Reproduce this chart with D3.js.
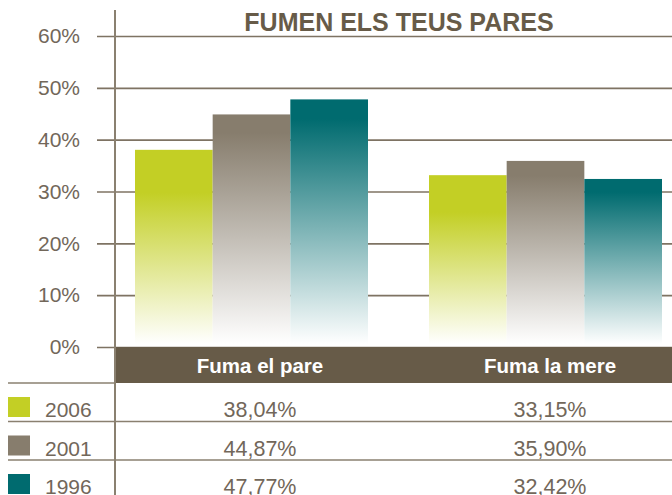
<!DOCTYPE html>
<html>
<head>
<meta charset="utf-8">
<script src="https://cdn.jsdelivr.net/npm/d3@7"></script>
<style>
  body { margin: 0; background: #fff; }
  svg { display: block; font-family: "Liberation Sans", Arial, sans-serif; }
</style>
</head>
<body>
<svg id="chart" width="672" height="495"></svg>
<script>
// Data
const categories = ["Fuma el pare", "Fuma la mere"];
const years = ["2006", "2001", "1996"];
const fumaPare = [38.04, 44.87, 47.77];
const fumaMere = [33.15, 35.90, 32.42];
const yTicks = [0, 10, 20, 30, 40, 50, 60];
const title = "FUMEN ELS TEUS PARES";

const colors = {"2006": "#c3cf25", "2001": "#877d6d", "1996": "#006b6f"};
const brown = "#675b48";
const lineColor = "#8a8070";
const textColor = "#72675a";

const svg = d3.select("#chart");

const y = d3.scaleLinear().domain([0, 60]).range([347, 36]);

// groups of bars
const x0 = d3.scaleBand().domain(categories).range([135, 662]).paddingInner(0.2075);
const x1 = d3.scaleBand().domain(years).range([0, x0.bandwidth()]);
// table columns
const xc = d3.scaleBand().domain(categories).range([115, 695]);

const fmt = v => d3.format(".2f")(v).replace(".", ",") + "%";

// gradients
const defs = svg.append("defs");
years.forEach(yr => {
    const g = defs.append("linearGradient")
        .attr("id", "grad" + yr)
        .attr("x1", 0).attr("y1", 0).attr("x2", 0).attr("y2", 1);
    const c = colors[yr];
    const solid = yr === "2006" ? 0.22 : 0.08;
    g.append("stop").attr("offset", 0).attr("stop-color", c);
    g.append("stop").attr("offset", solid).attr("stop-color", c);
    g.append("stop").attr("offset", 1).attr("stop-color", "#ffffff");
});

// gridlines
svg.append("g")
    .attr("transform", "translate(672,0)")
    .call(d3.axisLeft(y).tickValues(yTicks).tickSize(575).tickFormat(""))
    .call(g => g.select(".domain").remove())
    .call(g => g.selectAll("line").attr("stroke", brown).attr("stroke-width", 1.6).attr("stroke-opacity", 0.85));

// y labels
svg.append("g")
    .attr("transform", "translate(115,0)")
    .call(d3.axisLeft(y).tickValues(yTicks).tickSize(0).tickPadding(35).tickFormat(d => d + "%"))
    .call(g => g.select(".domain").remove())
    .call(g => g.selectAll("text")
        .attr("fill", textColor)
        .attr("font-size", 21)
        .attr("font-family", "Liberation Sans, Arial, sans-serif"));

// bars
const rows = years.map((yr, i) => ({year: yr, values: [fumaPare[i], fumaMere[i]]}));

categories.forEach((cat, ci) => {
    svg.append("g")
        .attr("transform", `translate(${x0(cat)},0)`)
        .selectAll("rect")
        .data(rows)
        .enter().append("rect")
        .attr("x", d => x1(d.year))
        .attr("y", d => y(d.values[ci]))
        .attr("width", x1.bandwidth())
        .attr("height", d => y(0) - 3 - y(d.values[ci]))
        .attr("fill", d => `url(#grad${d.year})`);
});

// title
svg.append("text")
    .attr("x", 399)
    .attr("y", 31)
    .attr("text-anchor", "middle")
    .attr("font-size", 25)
    .attr("font-weight", "bold")
    .attr("fill", brown)
    .text(title);

// header band
svg.append("rect")
    .attr("x", 115).attr("y", y(0))
    .attr("width", 672 - 115).attr("height", 36)
    .attr("fill", brown);

svg.selectAll(".cat-label")
    .data(categories)
    .enter().append("text")
    .attr("class", "cat-label")
    .attr("x", d => xc(d) + xc.bandwidth() / 2)
    .attr("y", 373)
    .attr("text-anchor", "middle")
    .attr("font-size", 20.5)
    .attr("font-weight", "bold")
    .attr("fill", "#fff")
    .text(d => d);

// table
const rowTop = 383, rowH = 38.5;

svg.selectAll(".row-line")
    .data([0, 1, 2])
    .enter().append("line")
    .attr("x1", 8)
    .attr("x2", d => d === 0 ? 115 : 672)
    .attr("y1", d => rowTop + d * rowH)
    .attr("y2", d => rowTop + d * rowH)
    .attr("stroke", lineColor)
    .attr("stroke-width", 1.6);

// vertical axis line
svg.append("line")
    .attr("x1", 115).attr("x2", 115)
    .attr("y1", 10).attr("y2", 495)
    .attr("stroke", lineColor)
    .attr("stroke-width", 2);

const tableRows = svg.selectAll(".trow")
    .data(rows)
    .enter().append("g")
    .attr("transform", (d, i) => `translate(0,${rowTop + i * rowH})`);

tableRows.append("rect")
    .attr("x", 8).attr("y", 14)
    .attr("width", 22).attr("height", 20)
    .attr("fill", d => colors[d.year]);

tableRows.append("text")
    .attr("x", 45).attr("y", 34)
    .attr("font-size", 21)
    .attr("fill", textColor)
    .text(d => d.year);

tableRows.selectAll(".val")
    .data(d => d.values)
    .enter().append("text")
    .attr("x", (d, i) => xc(categories[i]) + xc.bandwidth() / 2)
    .attr("y", 34)
    .attr("text-anchor", "middle")
    .attr("font-size", 21.5)
    .attr("fill", textColor)
    .text(d => fmt(d));
</script>
</body>
</html>
